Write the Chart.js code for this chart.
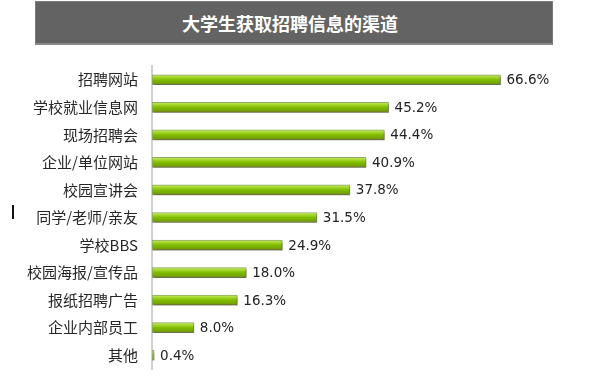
<!DOCTYPE html>
<html>
<head>
<meta charset="utf-8">
<script src="https://cdn.jsdelivr.net/npm/chart.js@4"></script>
<style>
    body { margin: 0; background: #fff; }
    #wrap { position: relative; width: 601px; height: 375px; }
    #banner {
        position: absolute; left: 35px; top: 1px; width: 516px; height: 41px;
        background: #636363; border: 1px solid #7a7a7a; border-bottom: 2px solid #8a8a8a;
        color: #fff; font: bold 18px "Noto Sans CJK SC", sans-serif;
        text-align: center; line-height: 42px; text-indent: -8px;
    }
    #mark { position: absolute; left: 12px; top: 205px; width: 2px; height: 14px; background: #111; }
    canvas { position: absolute; left: 0; top: 0; }
</style>
</head>
<body>
<div id="wrap">
    <canvas id="channelChart" width="601" height="375"></canvas>
    <div id="banner">大学生获取招聘信息的渠道</div>
    <div id="mark"></div>
</div>
<script>
const channels = ['招聘网站', '学校就业信息网', '现场招聘会', '企业/单位网站', '校园宣讲会', '同学/老师/亲友', '学校BBS', '校园海报/宣传品', '报纸招聘广告', '企业内部员工', '其他'];
const shares = [66.6, 45.2, 44.4, 40.9, 37.8, 31.5, 24.9, 18.0, 16.3, 8.0, 0.4];

// value labels at the end of each bar
const valueLabels = {
    id: 'valueLabels',
    afterDatasetsDraw(chart) {
        const ctx = chart.ctx;
        const meta = chart.getDatasetMeta(0);
        ctx.save();
        ctx.font = '13.5px "DejaVu Sans", sans-serif';
        ctx.fillStyle = '#222';
        ctx.textBaseline = 'middle';
        meta.data.forEach((bar, i) => {
            ctx.fillText(shares[i].toFixed(1) + '%', bar.x + 6, bar.y + 1);
        });
        ctx.restore();
    }
};

// soft shadow under the bars
const barShadow = {
    id: 'barShadow',
    beforeDatasetsDraw(chart) {
        const ctx = chart.ctx;
        ctx.save();
        ctx.shadowColor = 'rgba(0,0,0,0.35)';
        ctx.shadowOffsetX = 1;
        ctx.shadowOffsetY = 2;
        ctx.shadowBlur = 2;
    },
    afterDatasetsDraw(chart) {
        chart.ctx.restore();
    }
};

function barGradient(context) {
    const chart = context.chart;
    const yScale = chart.scales.y;
    if (!yScale || !chart.chartArea) return '#7cb900';
    const yc = yScale.getPixelForValue(context.dataIndex);
    const g = chart.ctx.createLinearGradient(0, yc - 5, 0, yc + 5);
    g.addColorStop(0, '#c9ef6a');
    g.addColorStop(0.25, '#a2d62a');
    g.addColorStop(0.5, '#80bd00');
    g.addColorStop(0.8, '#72a800');
    g.addColorStop(1, '#8c7a24');
    return g;
}

document.addEventListener('DOMContentLoaded', function() {
    const ctx = document.getElementById('channelChart').getContext('2d');
    new Chart(ctx, {
        type: 'bar',
        data: {
            labels: channels,
            datasets: [{
                data: shares,
                backgroundColor: barGradient,
                borderColor: '#8fa868',
                borderWidth: 1,
                barThickness: 10,
                borderSkipped: false
            }]
        },
        plugins: [barShadow, valueLabels],
        options: {
            indexAxis: 'y',
            responsive: false,
            animation: false,
            layout: { padding: { top: 66, bottom: 6, left: 0, right: 0 } },
            plugins: {
                legend: { display: false },
                tooltip: { enabled: false }
            },
            scales: {
                x: {
                    display: false,
                    min: 0,
                    max: 85.8
                },
                y: {
                    afterFit(scale) {
                        scale.width = 152;
                        scale.paddingTop = 0;
                        scale.paddingBottom = 0;
                    },
                    grid: { display: false, drawTicks: false },
                    border: { display: true, color: '#d0d0d0', width: 2 },
                    ticks: {
                        padding: 14,
                        color: '#262626',
                        font: { family: '"Noto Sans CJK SC", sans-serif', size: 15 }
                    }
                }
            }
        }
    });
});
</script>
</body>
</html>
